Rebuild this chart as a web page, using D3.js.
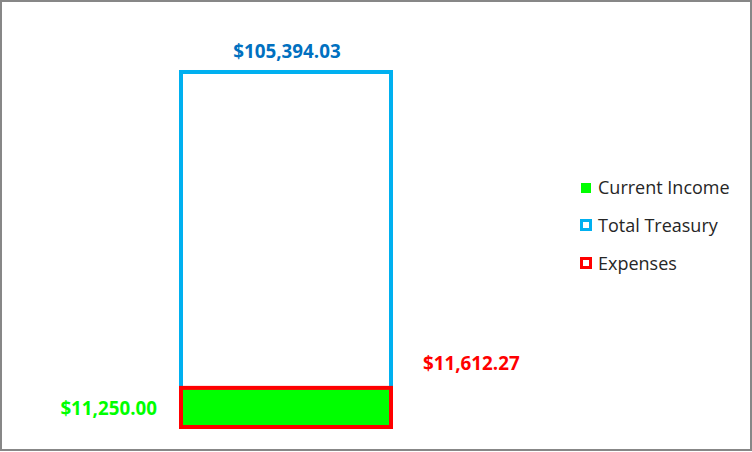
<!DOCTYPE html>
<html><head><meta charset="utf-8">
<script src="https://cdn.jsdelivr.net/npm/d3@7"></script>
<style>body{margin:0;background:#fff}svg{display:block}</style>
</head><body>
<svg id="c" width="752" height="452"></svg>
<script>
const categories = ["Funds"];
const seriesNames = ["Current Income", "Total Treasury", "Expenses"];
const currentIncome = [11250.00];
const totalTreasury = [105394.03];
const expenses = [11612.27];
const labelTexts = ["$11,250.00", "$105,394.03", "$11,612.27"];

const svg = d3.select("#c");
const font = "'Open Sans', 'Noto Sans', sans-serif";

svg.append("rect").attr("x",1).attr("y",1).attr("width",750).attr("height",449)
  .attr("fill","#fff").attr("stroke","#878787").attr("stroke-width",2);

const y = d3.scaleLinear().domain([0,120000]).range([427, 427-404.2]);
const x = d3.scaleBand().domain(categories).range([76,496]).paddingInner(0).paddingOuter(0.5);
const bw = x.bandwidth();

svg.selectAll(".tt").data(totalTreasury).join("rect")
  .attr("x",(d,i)=>x(categories[i])).attr("width",bw)
  .attr("y",d=>y(d)).attr("height",d=>y(0)-y(d))
  .attr("fill","none").attr("stroke","#00B0F0").attr("stroke-width",4);
svg.selectAll(".ci").data(currentIncome).join("rect")
  .attr("x",(d,i)=>x(categories[i])).attr("width",bw)
  .attr("y",d=>y(d)).attr("height",d=>y(0)-y(d))
  .attr("fill","#00FF00");
svg.selectAll(".ex").data(expenses).join("rect")
  .attr("x",(d,i)=>x(categories[i])).attr("width",bw)
  .attr("y",d=>y(d)).attr("height",d=>y(0)-y(d))
  .attr("fill","none").attr("stroke","#FF0000").attr("stroke-width",4);

const x0 = x(categories[0]);
function lbl(t, xx, yy, anchor, color){
  svg.append("text").text(t).attr("x",xx).attr("y",yy)
    .attr("text-anchor",anchor).attr("fill",color).attr("font-weight","bold")
    .attr("font-family",font).attr("font-size",18.8);
}
lbl(labelTexts[1], x0+bw/2+1, y(totalTreasury[0])-14, "middle", "#0070C0");
lbl(labelTexts[2], x0+bw+32, y(expenses[0])-18, "start", "#FF0000");
lbl(labelTexts[0], x0-24, y(0)-12, "end", "#00FF00");

const legend = [
  {name:seriesNames[0], fill:"#00FF00", stroke:"none", sw:0},
  {name:seriesNames[1], fill:"#fff", stroke:"#00B0F0", sw:3},
  {name:seriesNames[2], fill:"#fff", stroke:"#FF0000", sw:3}
];
const lg = svg.append("g").attr("transform","translate(581,183)");
legend.forEach((l,i)=>{
  const g = lg.append("g").attr("transform",`translate(0,${i*38})`);
  if (l.sw===0) g.append("rect").attr("x",0).attr("y",0).attr("width",10).attr("height",10).attr("fill",l.fill);
  else g.append("rect").attr("x",0.5).attr("y",-0.5).attr("width",9).attr("height",9).attr("fill",l.fill).attr("stroke",l.stroke).attr("stroke-width",l.sw);
  g.append("text").text(l.name).attr("x",17).attr("y",11).attr("font-family",font)
    .attr("font-size",18).attr("fill","#262626");
});
</script>
</body></html>
